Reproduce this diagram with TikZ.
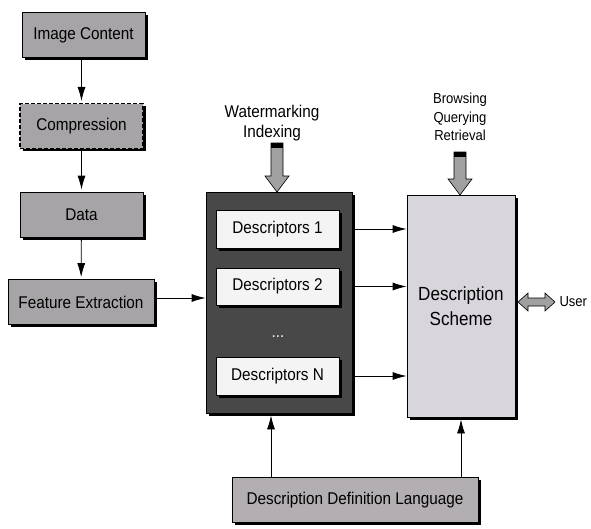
\documentclass[tikz,border=0pt]{standalone}
\usepackage{fontspec}
\setmainfont{Liberation Sans}[FakeStretch=0.9]
\usetikzlibrary{arrows.meta,shadows,calc}

\definecolor{boxgray}{RGB}{166,164,166}
\definecolor{langgray}{RGB}{178,174,178}
\definecolor{darkgray}{RGB}{72,72,72}
\definecolor{schemegray}{RGB}{216,214,220}
\definecolor{descwhite}{RGB}{244,244,244}
\definecolor{arrowgray}{RGB}{160,160,160}

\begin{document}
\begin{tikzpicture}[x=1pt,y=-1pt,
  shadowed/.style={drop shadow={shadow xshift=2.5pt,shadow yshift=-2.5pt,fill=black,opacity=1}},
  box/.style={draw=black,line width=0.8pt,fill=boxgray,inner sep=0pt,
    minimum width=123pt,minimum height=45pt,font=\fontsize{17}{17}\selectfont,shadowed},
  descbox/.style={box,fill=descwhite,minimum height=38pt},
  label/.style={align=center,font=\fontsize{14.5}{19}\selectfont},
  flow/.style={-{Latex[length=14pt,width=8pt]},line width=0.8pt,shorten >=2pt},
  pics/downblock/.style={code={
    \draw[fill=arrowgray,line width=0.6pt]
      (0,0) -- (-12,-16) -- (-6,-16) -- (-6,-#1) -- (6,-#1) -- (6,-16) -- (12,-16) -- cycle;
    \fill[black] (-6,-#1) rectangle (6,{-#1+5});
  }}
]
\useasboundingbox (0,0) rectangle (591,528);

% left processing chain
\node[box] (img) at (83.5,35) {Image Content};
\node[box,dash pattern=on 4pt off 2pt,line width=1.1pt] (comp) at (81.5,126) {Compression};
\node[box] (data) at (81.5,214.5) {Data};
\node[box,minimum width=146pt] (feat) at (81,302) {Feature Extraction};

\draw[flow] (img.south -| comp.north) -- (comp.north);
\draw[flow] (comp) -- (data);
\draw[flow] (data) -- (feat);

% descriptor container
\node[box,fill=darkgray,minimum width=146pt,minimum height=221pt] (dset) at (279,302.5) {};
\node[descbox] (d1) at (277.5,229) {Descriptors 1};
\node[descbox,minimum height=37pt] (d2) at (277.5,286.5) {Descriptors 2};
\node[font=\fontsize{17}{17}\selectfont,text=descwhite] (dots) at (278,337) {...};
\node[descbox] (dn) at (277.5,376) {Descriptors N};

\draw[flow,shorten >=0pt] (feat.east |- 0,298) -- (dset.west |- 0,298);

% description scheme
\node[box,fill=schemegray,minimum width=108pt,minimum height=222pt,align=center,
  font=\fontsize{19}{25}\selectfont] (scheme) at (461,306) {Description\\Scheme};

\draw[flow,shorten >=0pt] (dset.east |- d1) -- (scheme.west |- d1);
\draw[flow,shorten >=0pt] (dset.east |- d2) -- (scheme.west |- d2);
\draw[flow,shorten >=0pt] (dset.east |- dn) -- (scheme.west |- dn);

% definition language
\node[box,fill=langgray,minimum width=246pt] (ddl) at (355,500) {Description Definition Language};
\draw[flow] (ddl.north -| 271,0) -- (dset.south -| 271,0);
\draw[flow] (ddl.north -| scheme.south) -- (scheme.south);

% application inputs
\node[label,font=\fontsize{17}{20}\selectfont] (wm) at (272,123) {Watermarking\\Indexing};
\node[label,font=\fontsize{14.5}{18.5}\selectfont] (bqr) at (460,117) {Browsing\\Querying\\Retrieval};
\pic at (277,192) {downblock=49};
\pic at (460,195) {downblock=43};

% user interaction
\node[font=\fontsize{14.5}{14.5}\selectfont,anchor=west] (user) at (556,302) {User};
\draw[fill=arrowgray,line width=0.6pt]
  (518,302) -- (528,293) -- (528,298) -- (545,298) -- (545,293) -- (555,302)
  -- (545,311) -- (545,306) -- (528,306) -- (528,311) -- cycle;
\end{tikzpicture}
\end{document}
